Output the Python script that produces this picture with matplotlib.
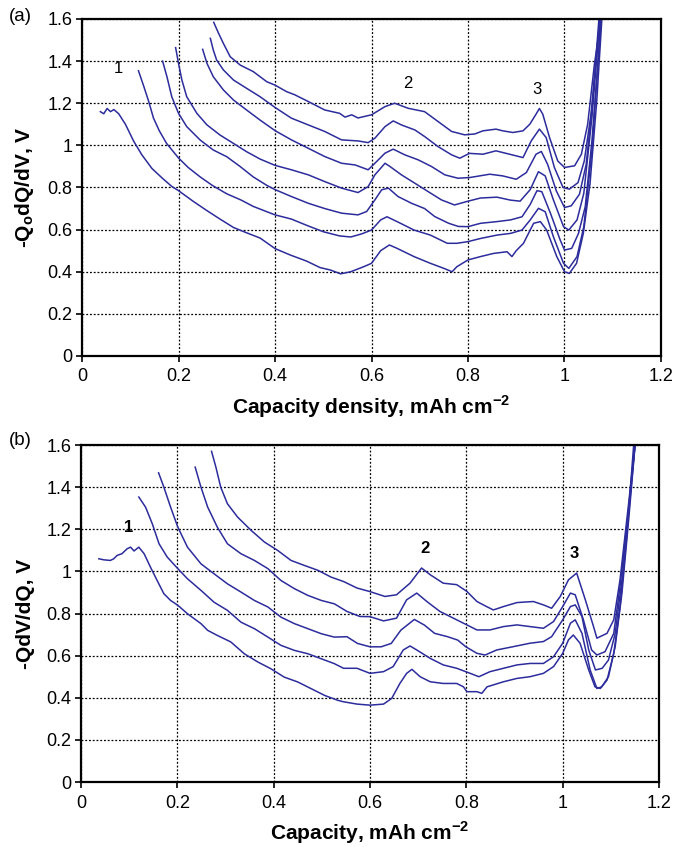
import numpy as np
import matplotlib
matplotlib.use('Agg')
import matplotlib.pyplot as plt
from matplotlib.ticker import FormatStrFormatter, MultipleLocator

plt.rcParams['font.family'] = ['Liberation Sans', 'DejaVu Sans']
plt.rcParams['mathtext.fontset'] = 'custom'
plt.rcParams['mathtext.rm'] = 'Liberation Sans'
plt.rcParams['mathtext.bf'] = 'Liberation Sans:bold'

# ---- panel (a): -Qo dQ/dV vs capacity density, 7 curves (bottom -> top)
a1_x = [0.038, 0.045, 0.052, 0.059, 0.066, 0.076, 0.09, 0.107, 0.124, 0.145, 0.166, 0.186, 0.2, 0.23, 0.259,
        0.286, 0.314, 0.341, 0.369, 0.4, 0.431, 0.466, 0.493, 0.515, 0.536, 0.557, 0.584, 0.6, 0.619, 0.637,
        0.653, 0.688, 0.722, 0.75, 0.767, 0.777, 0.8, 0.826, 0.853, 0.881, 0.891, 0.9, 0.915, 0.936, 0.95,
        0.963, 0.984, 1.0, 1.01, 1.025, 1.039, 1.053, 1.067, 1.078]
a1_y = [1.16, 1.15, 1.175, 1.16, 1.17, 1.15, 1.10, 1.02, 0.955, 0.89, 0.845, 0.805, 0.785, 0.735, 0.69,
        0.65, 0.61, 0.585, 0.56, 0.51, 0.48, 0.45, 0.42, 0.408, 0.39, 0.40, 0.424, 0.44, 0.50, 0.527,
        0.511, 0.472, 0.44, 0.416, 0.40, 0.424, 0.456, 0.472, 0.487, 0.495, 0.472, 0.50, 0.535, 0.63, 0.638,
        0.598, 0.472, 0.40, 0.392, 0.44, 0.582, 0.82, 1.215, 1.62]

a2_x = [0.117, 0.128, 0.138, 0.148, 0.16, 0.175, 0.2, 0.22, 0.245, 0.27, 0.3, 0.33, 0.355, 0.383, 0.4,
        0.434, 0.466, 0.5, 0.534, 0.557, 0.58, 0.6, 0.619, 0.632, 0.653, 0.688, 0.722, 0.757, 0.777, 0.8,
        0.826, 0.86, 0.888, 0.912, 0.929, 0.946, 0.96, 0.977, 0.998, 1.009, 1.026, 1.04, 1.057, 1.076]
a2_y = [1.354, 1.28, 1.21, 1.13, 1.07, 1.01, 0.94, 0.895, 0.85, 0.81, 0.77, 0.74, 0.71, 0.685, 0.67,
        0.65, 0.62, 0.59, 0.57, 0.565, 0.58, 0.598, 0.646, 0.661, 0.638, 0.598, 0.574, 0.535, 0.535, 0.543,
        0.558, 0.574, 0.582, 0.598, 0.646, 0.701, 0.685, 0.566, 0.44, 0.416, 0.472, 0.614, 0.978, 1.62]

a3_x = [0.167, 0.176, 0.186, 0.2, 0.217, 0.245, 0.272, 0.3, 0.328, 0.355, 0.383, 0.4, 0.434, 0.469, 0.503,
        0.538, 0.572, 0.59, 0.607, 0.621, 0.635, 0.655, 0.683, 0.71, 0.731, 0.76, 0.78, 0.8, 0.826, 0.86,
        0.888, 0.912, 0.929, 0.943, 0.953, 0.971, 0.991, 1.0, 1.015, 1.029, 1.043, 1.057, 1.077]
a3_y = [1.40, 1.326, 1.231, 1.152, 1.089, 1.025, 0.978, 0.946, 0.899, 0.85, 0.81, 0.79, 0.757, 0.725, 0.70,
        0.678, 0.67, 0.686, 0.741, 0.789, 0.797, 0.757, 0.725, 0.70, 0.662, 0.63, 0.615, 0.614, 0.63, 0.638,
        0.646, 0.661, 0.72, 0.785, 0.78, 0.677, 0.551, 0.503, 0.511, 0.582, 0.709, 1.025, 1.62]

a4_x = [0.194, 0.2, 0.207, 0.217, 0.238, 0.259, 0.286, 0.314, 0.341, 0.369, 0.4, 0.434, 0.469, 0.503, 0.538,
        0.572, 0.593, 0.607, 0.628, 0.638, 0.662, 0.69, 0.717, 0.745, 0.772, 0.8, 0.826, 0.86, 0.888, 0.908,
        0.929, 0.946, 0.96, 0.977, 0.998, 1.009, 1.026, 1.04, 1.057, 1.074]
a4_y = [1.464, 1.389, 1.31, 1.231, 1.152, 1.097, 1.049, 1.009, 0.97, 0.935, 0.905, 0.884, 0.86, 0.828, 0.797,
        0.776, 0.804, 0.86, 0.915, 0.90, 0.86, 0.82, 0.781, 0.741, 0.717, 0.735, 0.75, 0.754, 0.74, 0.735,
        0.79, 0.875, 0.855, 0.741, 0.614, 0.598, 0.646, 0.772, 1.136, 1.62]

a5_x = [0.25, 0.259, 0.272, 0.293, 0.314, 0.341, 0.369, 0.4, 0.434, 0.469, 0.503, 0.538, 0.566, 0.593, 0.607,
        0.628, 0.645, 0.669, 0.697, 0.724, 0.752, 0.779, 0.803, 0.845, 0.872, 0.9, 0.921, 0.941, 0.952, 0.965,
        0.983, 1.0, 1.014, 1.031, 1.045, 1.059, 1.072]
a5_y = [1.456, 1.389, 1.326, 1.263, 1.215, 1.168, 1.12, 1.07, 1.026, 0.986, 0.947, 0.915, 0.907, 0.884, 0.915,
        0.963, 0.982, 0.955, 0.931, 0.90, 0.86, 0.844, 0.847, 0.863, 0.855, 0.839, 0.871, 0.958, 0.971, 0.91,
        0.784, 0.705, 0.713, 0.768, 0.91, 1.227, 1.62]

a6_x = [0.266, 0.272, 0.279, 0.293, 0.314, 0.341, 0.369, 0.4, 0.434, 0.469, 0.503, 0.538, 0.572, 0.593, 0.607,
        0.628, 0.645, 0.662, 0.69, 0.71, 0.738, 0.766, 0.783, 0.803, 0.831, 0.858, 0.886, 0.914, 0.931, 0.948,
        0.962, 0.979, 0.997, 1.01, 1.028, 1.041, 1.055, 1.074]
a6_y = [1.508, 1.453, 1.405, 1.358, 1.31, 1.271, 1.231, 1.18, 1.129, 1.097, 1.066, 1.026, 1.021, 1.013, 1.034,
        1.089, 1.116, 1.097, 1.073, 1.042, 0.994, 0.955, 0.939, 0.962, 0.958, 0.974, 0.958, 0.942, 1.021, 1.077,
        1.037, 0.895, 0.80, 0.792, 0.823, 0.926, 1.148, 1.62]

a7_x = [0.273, 0.283, 0.293, 0.307, 0.328, 0.355, 0.383, 0.4, 0.424, 0.441, 0.469, 0.503, 0.534, 0.545, 0.559,
        0.572, 0.6, 0.628, 0.648, 0.676, 0.71, 0.738, 0.766, 0.793, 0.814, 0.831, 0.858, 0.872, 0.893, 0.914,
        0.928, 0.941, 0.948, 0.955, 0.969, 0.986, 1.0, 1.021, 1.035, 1.048, 1.062, 1.077]
a7_y = [1.584, 1.532, 1.484, 1.421, 1.381, 1.35, 1.302, 1.286, 1.255, 1.24, 1.208, 1.168, 1.152, 1.134, 1.145,
        1.13, 1.145, 1.184, 1.2, 1.176, 1.16, 1.113, 1.066, 1.05, 1.054, 1.069, 1.077, 1.069, 1.061, 1.069,
        1.10, 1.148, 1.175, 1.148, 1.037, 0.926, 0.895, 0.903, 0.958, 1.10, 1.385, 1.62]

# ---- panel (b): -QdV/dQ vs capacity, 5 curves (bottom -> top)
b1_x = [0.037, 0.047, 0.061, 0.068, 0.075, 0.085, 0.096, 0.103, 0.11, 0.12, 0.131, 0.144, 0.158, 0.172, 0.186,
        0.201, 0.221, 0.249, 0.263, 0.283, 0.311, 0.339, 0.367, 0.394, 0.422, 0.45, 0.478, 0.506, 0.533, 0.545,
        0.573, 0.6, 0.628, 0.645, 0.662, 0.676, 0.687, 0.704, 0.725, 0.752, 0.78, 0.794, 0.801, 0.822, 0.832,
        0.843, 0.877, 0.905, 0.932, 0.96, 0.981, 1.0, 1.012, 1.022, 1.036, 1.054, 1.067, 1.078, 1.092, 1.106,
        1.119, 1.133, 1.148]
b1_y = [1.06, 1.055, 1.052, 1.06, 1.076, 1.084, 1.108, 1.115, 1.097, 1.115, 1.084, 1.021, 0.957, 0.894, 0.862,
        0.839, 0.799, 0.752, 0.72, 0.696, 0.665, 0.609, 0.57, 0.538, 0.498, 0.475, 0.443, 0.411, 0.388, 0.381,
        0.37, 0.365, 0.37, 0.397, 0.468, 0.516, 0.535, 0.50, 0.476, 0.468, 0.468, 0.452, 0.429, 0.429, 0.421,
        0.452, 0.476, 0.492, 0.50, 0.516, 0.548, 0.611, 0.675, 0.698, 0.659, 0.532, 0.452, 0.444, 0.484, 0.611,
        0.833, 1.167, 1.62]

b2_x = [0.12, 0.134, 0.148, 0.162, 0.179, 0.201, 0.221, 0.249, 0.276, 0.304, 0.332, 0.36, 0.388, 0.415, 0.443,
        0.471, 0.499, 0.526, 0.545, 0.573, 0.6, 0.628, 0.648, 0.669, 0.683, 0.697, 0.725, 0.752, 0.78, 0.808,
        0.826, 0.849, 0.877, 0.905, 0.932, 0.96, 0.981, 1.0, 1.016, 1.026, 1.04, 1.057, 1.071, 1.081, 1.095,
        1.109, 1.123, 1.137, 1.151]
b2_y = [1.353, 1.305, 1.226, 1.131, 1.068, 1.013, 0.965, 0.91, 0.854, 0.815, 0.759, 0.728, 0.688, 0.649, 0.625,
        0.609, 0.585, 0.562, 0.54, 0.54, 0.516, 0.524, 0.548, 0.627, 0.646, 0.627, 0.587, 0.556, 0.54, 0.516,
        0.50, 0.524, 0.54, 0.556, 0.563, 0.563, 0.595, 0.659, 0.754, 0.77, 0.706, 0.532, 0.444, 0.452, 0.50,
        0.643, 0.897, 1.246, 1.62]

b3_x = [0.161, 0.172, 0.186, 0.201, 0.221, 0.249, 0.276, 0.304, 0.332, 0.36, 0.388, 0.415, 0.443, 0.471, 0.499,
        0.526, 0.552, 0.574, 0.6, 0.623, 0.644, 0.664, 0.692, 0.713, 0.734, 0.761, 0.782, 0.799, 0.822, 0.839,
        0.863, 0.898, 0.932, 0.96, 0.977, 1.0, 1.016, 1.026, 1.04, 1.054, 1.068, 1.082, 1.095, 1.109, 1.123,
        1.14, 1.151]
b3_y = [1.468, 1.40, 1.305, 1.21, 1.115, 1.036, 0.989, 0.941, 0.902, 0.862, 0.831, 0.783, 0.752, 0.728, 0.704,
        0.688, 0.69, 0.658, 0.642, 0.642, 0.658, 0.721, 0.772, 0.745, 0.706, 0.69, 0.674, 0.642, 0.611, 0.603,
        0.627, 0.643, 0.659, 0.667, 0.69, 0.77, 0.833, 0.841, 0.786, 0.627, 0.532, 0.54, 0.579, 0.706, 0.96,
        1.35, 1.62]

b4_x = [0.237, 0.249, 0.263, 0.283, 0.304, 0.332, 0.36, 0.388, 0.415, 0.443, 0.471, 0.499, 0.526, 0.552, 0.579,
        0.6, 0.628, 0.655, 0.676, 0.697, 0.718, 0.745, 0.773, 0.794, 0.822, 0.849, 0.877, 0.905, 0.932, 0.96,
        0.981, 1.0, 1.016, 1.026, 1.043, 1.06, 1.071, 1.088, 1.106, 1.119, 1.137, 1.151]
b4_y = [1.495, 1.40, 1.305, 1.21, 1.131, 1.084, 1.052, 1.013, 0.957, 0.918, 0.886, 0.862, 0.846, 0.81, 0.786,
        0.785, 0.765, 0.778, 0.865, 0.897, 0.857, 0.81, 0.778, 0.754, 0.722, 0.722, 0.738, 0.746, 0.738, 0.73,
        0.762, 0.833, 0.897, 0.889, 0.77, 0.627, 0.603, 0.619, 0.706, 0.929, 1.30, 1.62]

b5_x = [0.271, 0.28, 0.29, 0.304, 0.325, 0.353, 0.381, 0.408, 0.436, 0.464, 0.492, 0.519, 0.545, 0.573, 0.6,
        0.631, 0.655, 0.683, 0.707, 0.725, 0.752, 0.78, 0.801, 0.822, 0.842, 0.856, 0.877, 0.905, 0.939, 0.96,
        0.977, 0.995, 1.012, 1.029, 1.047, 1.064, 1.071, 1.092, 1.106, 1.119, 1.137, 1.151]
b5_y = [1.57, 1.495, 1.40, 1.321, 1.258, 1.195, 1.139, 1.10, 1.052, 1.028, 1.005, 0.973, 0.952, 0.921, 0.904,
        0.881, 0.889, 0.944, 1.016, 0.984, 0.944, 0.937, 0.905, 0.857, 0.833, 0.817, 0.833, 0.852, 0.857, 0.841,
        0.825, 0.881, 0.96, 0.992, 0.865, 0.738, 0.683, 0.706, 0.77, 0.96, 1.325, 1.62]

curves_a = [(a1_x, a1_y), (a2_x, a2_y), (a3_x, a3_y), (a4_x, a4_y), (a5_x, a5_y), (a6_x, a6_y), (a7_x, a7_y)]
curves_b = [(b1_x, b1_y), (b2_x, b2_y), (b3_x, b3_y), (b4_x, b4_y), (b5_x, b5_y)]

# peak labels: (text, x, y)
peaks_a = [('1', 0.076, 1.366), ('2', 0.675, 1.295), ('3', 0.943, 1.266)]
peaks_b = [('1', 0.098, 1.209), ('2', 0.714, 1.109), ('3', 1.024, 1.086)]

x_ticks = [0, 0.2, 0.4, 0.6, 0.8, 1.0, 1.2]
line_color = '#2c2c9c'

fig = plt.figure(figsize=(6.74, 8.47), dpi=100)
ax_a = fig.add_axes([0.1217, 0.5797, 0.859, 0.3979])
ax_b = fig.add_axes([0.1202, 0.0767, 0.8576, 0.3979])


def style_axes(ax, ylabel, xlabel):
    ax.set_xlim(0, 1.2)
    ax.set_ylim(0, 1.6)
    ax.set_xticks(x_ticks)
    ax.yaxis.set_major_locator(MultipleLocator(0.2))
    ax.xaxis.set_major_formatter(FormatStrFormatter('%g'))
    ax.yaxis.set_major_formatter(FormatStrFormatter('%g'))
    ax.grid(True, color='black', linestyle=(0, (1.5, 1.5)), linewidth=0.9)
    ax.set_axisbelow(True)
    for s in ax.spines.values():
        s.set_linewidth(1.6)
    ax.tick_params(direction='out', length=4, width=1.2, labelsize=13, pad=3,
                   top=False, right=False)
    ax.tick_params(axis='x', pad=5)
    ax.set_ylabel(ylabel, fontsize=15, fontweight='bold')
    ax.set_xlabel(xlabel, fontsize=15, fontweight='bold')
    ax.yaxis.set_label_coords(-0.08, 0.5)
    ax.xaxis.set_label_coords(0.5, -0.11)


for cx, cy in curves_a:
    ax_a.plot(cx, cy, color=line_color, linewidth=1.1)
for cx, cy in curves_b:
    ax_b.plot(cx, cy, color=line_color, linewidth=1.1)

style_axes(ax_a, r'-Q$_{\mathbf{o}}$dQ/dV, V', r'Capacity density, mAh cm$^{\mathbf{-2}}$')
style_axes(ax_b, r'-QdV/dQ, V', r'Capacity, mAh cm$^{\mathbf{-2}}$')

for t, px, py in peaks_a:
    ax_a.text(px, py, t, fontsize=12, ha='center', va='center')
for t, px, py in peaks_b:
    ax_b.text(px, py, t, fontsize=12, fontweight='bold', ha='center', va='center')

fig.text(0.03, 0.98, '(a)', fontsize=13.5, ha='center', va='center')
fig.text(0.03, 0.48, '(b)', fontsize=13.5, ha='center', va='center')

fig.savefig('out.png', dpi=100)
